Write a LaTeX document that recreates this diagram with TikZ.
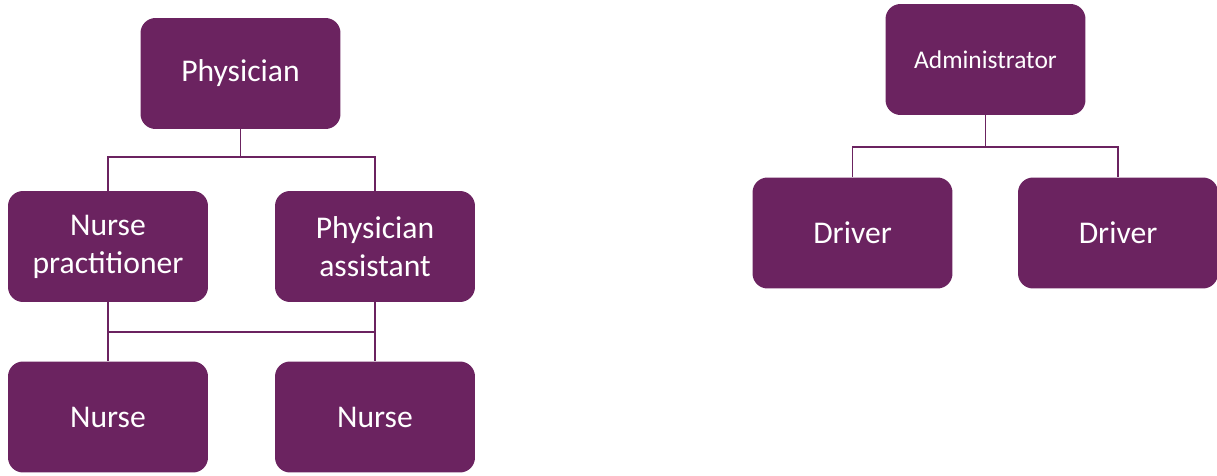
\documentclass[tikz,border=0pt]{standalone}
\usepackage{fontspec}
\setmainfont{Carlito}
\usetikzlibrary{calc}

\definecolor{plum}{HTML}{6B2360}

\tikzset{
  role/.style={draw=none, fill=plum, rounded corners=0.3cm, text=white,
    minimum width=4cm, minimum height=2.22cm, align=center,
    font=\fontsize{18}{21.6}\selectfont},
  link/.style={draw=plum, line width=1.1pt}
}

\begin{document}
\begin{tikzpicture}[x=0.02cm, y=-0.02cm]

\useasboundingbox (0,0) rectangle (1217,476);

% clinical side
\node[role] (phys) at (240.5,73.5) {Physician};
\node[role] (np) at (108,246.5) {Nurse\\practitioner};
\node[role] (pa) at (375,246.5) {Physician\\assistant};
\node[role] (nurseA) at (108,417) {Nurse};
\node[role] (nurseB) at (375,417) {Nurse};

\draw[link] (phys.south) -- ++(0,28) coordinate (physjoin);
\draw[link] (np.north) |- (physjoin) -| (pa.north);

\draw[link] (np.south) -- (nurseA.north);
\draw[link] (pa.south) -- (nurseB.north);
\draw[link] ($(np.south)!0.5!(nurseA.north)$) -- ($(pa.south)!0.5!(nurseB.north)$);

% transport side
\node[role, font=\fontsize{14.5}{17.4}\selectfont] (admin) at (985.5,59.5) {Administrator};
\node[role] (driverA) at (852.5,233) {Driver};
\node[role] (driverB) at (1118,233) {Driver};

\draw[link] (admin.south) -- ++(0,32) coordinate (adminjoin);
\draw[link] (driverA.north) |- (adminjoin) -| (driverB.north);

\end{tikzpicture}
\end{document}
